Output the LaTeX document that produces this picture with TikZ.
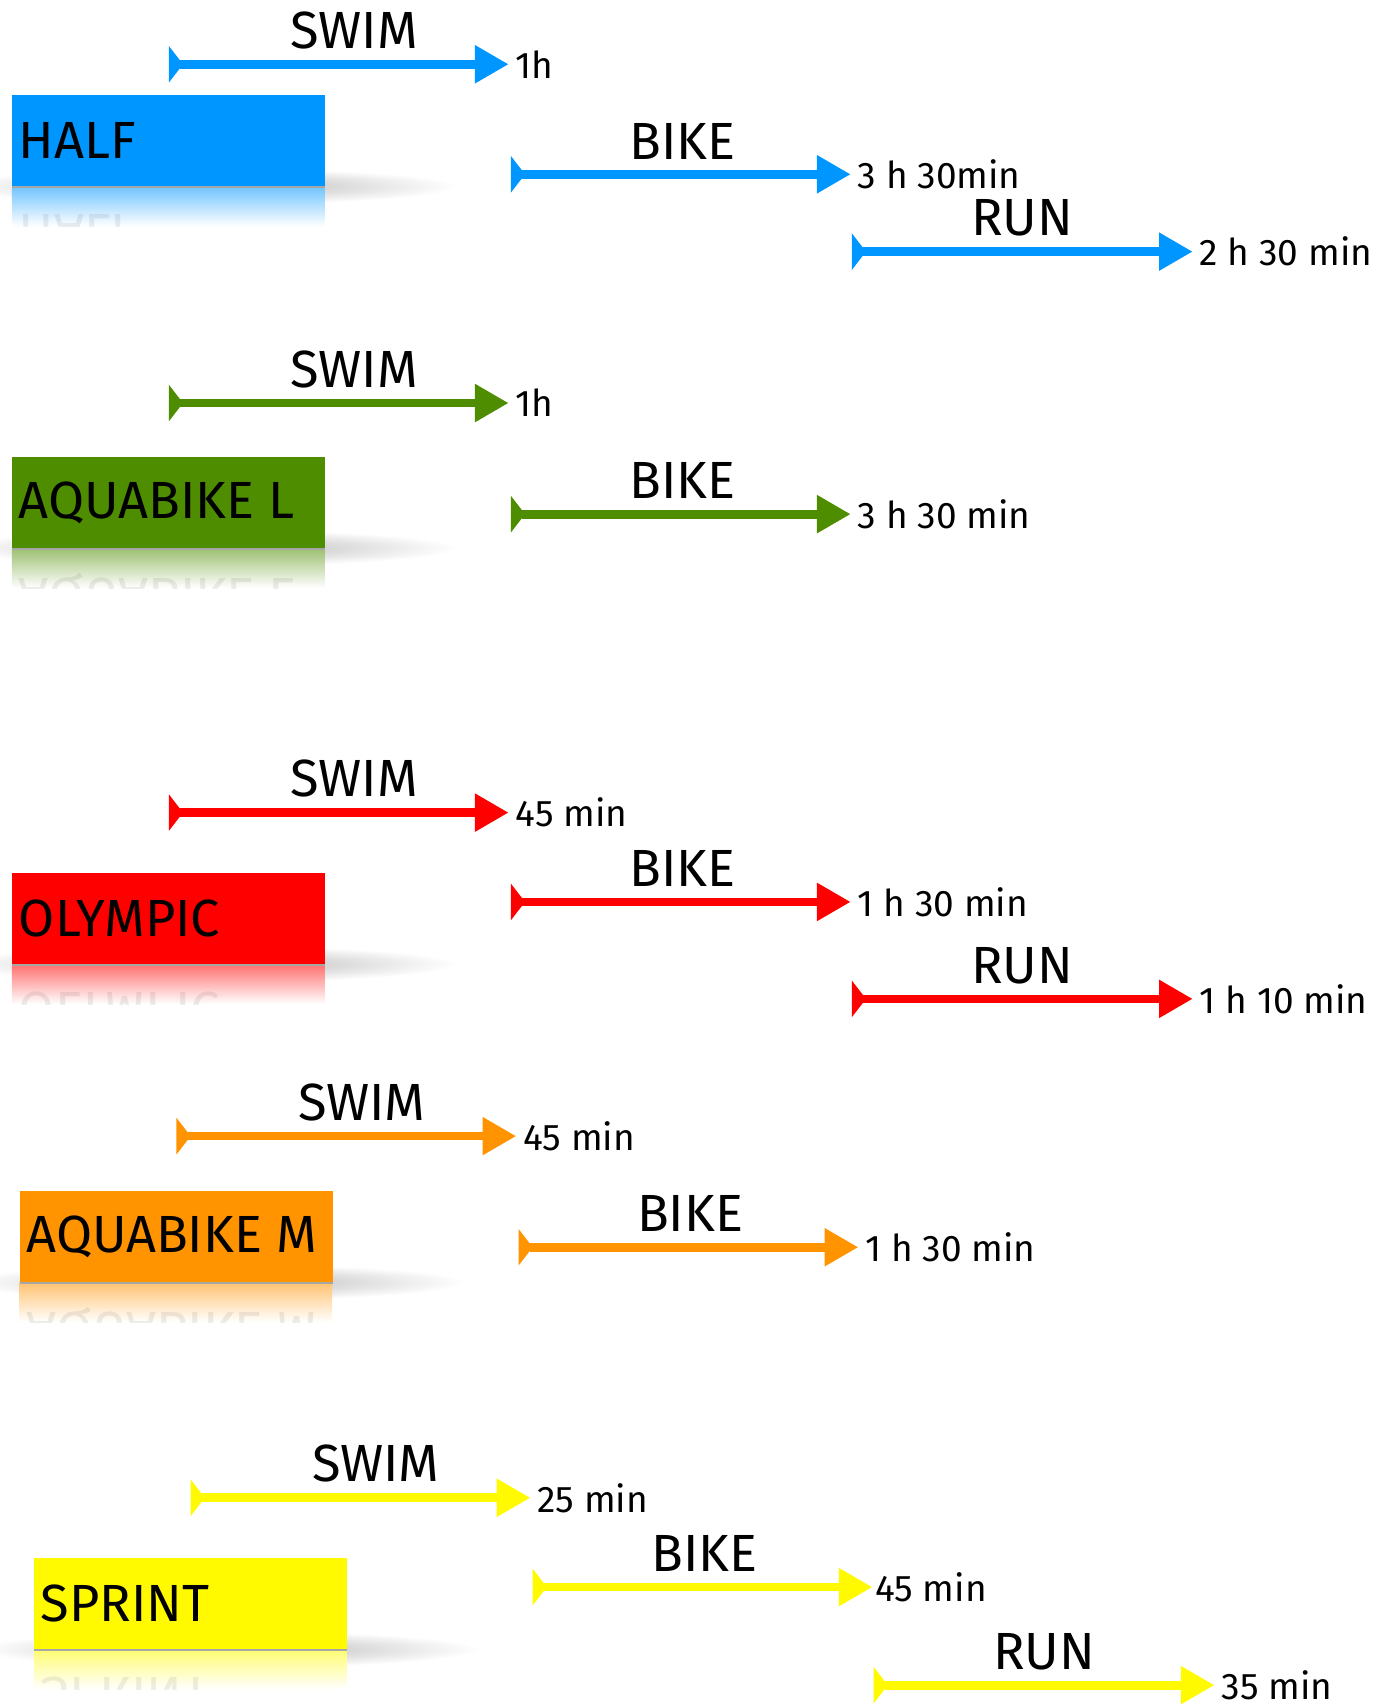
\documentclass[tikz,border=0pt]{standalone}
\usepackage{fontspec}
\setmainfont{Fira Sans}
\usepackage{tikz}
\usetikzlibrary{positioning,calc,arrows.meta}

\definecolor{halfblue}{HTML}{0096FF}
\definecolor{aquagreen}{HTML}{4E8C00}
\definecolor{olyred}{HTML}{FF0000}
\definecolor{aquaorange}{HTML}{FF9300}
\definecolor{sprintyellow}{HTML}{FFFA00}

\begin{document}
\begin{tikzpicture}[x=0.5pt, y=-0.5pt,
    racebox/.style={rectangle, minimum width=143.5pt, minimum height=42pt, inner sep=0pt, anchor=north west},
    racename/.style={anchor=west, inner xsep=3pt, text=black, font=\fontsize{24}{28}\selectfont},
    leg/.style={line width=4pt, arrows={Triangle[reversed,length=6.5pt,width=16.5pt]-Triangle[length=15.5pt,width=16.5pt]}},
    legname/.style={above, inner ysep=5pt, text=black, font=\fontsize{24}{28}\selectfont},
    legtime/.style={inner xsep=3pt, text=black, font=\fontsize{17}{20}\selectfont},
    blob/.style={inner color=black!30, outer color=white},
    mirror/.style={racename, yscale=-1, opacity=.07}
]
    \useasboundingbox (0,0) rectangle (1276,1568);

    % HALF
    \shade[blob] (190,171) ellipse [x radius=230, y radius=17];
    \node[racebox, fill=halfblue] (half) at (11,87) {};
    \shade[top color=halfblue!55!white, bottom color=white] (half.south west) rectangle ++(287,36);
    \begin{scope}
        \clip (half.south west) rectangle ++(287,36);
        \node[mirror] (halfmirror) at ([yshift=-42pt]half.west) {HALF};
    \end{scope}
    \draw[black!35, line width=1pt] (half.south west) -- (half.south east);
    \node[racename] (halftext) at (half.west) {HALF};

    \coordinate (halfswimS) at (155,59);
    \coordinate (halfswimE) at (467,59);
    \coordinate (halfbikeS) at (469,160);
    \coordinate (halfbikeE) at (781,160);
    \coordinate (halfrunS) at (782,231);
    \coordinate (halfrunE) at (1095,231);
    \draw[leg, halfblue] (halfswimS) -- (halfswimE) node[legname, pos=.545] (halfswimL) {SWIM};
    \draw[leg, halfblue] (halfbikeS) -- (halfbikeE) node[legname, pos=.505] (halfbikeL) {BIKE};
    \draw[leg, halfblue] (halfrunS) -- (halfrunE) node[legname, pos=.5] (halfrunL) {RUN};
    \node[legtime, right=0pt of halfswimE] (halfswimT) {1h};
    \node[legtime, right=0pt of halfbikeE] (halfbikeT) {3 h 30min};
    \node[legtime, right=0pt of halfrunE] (halfrunT) {2 h 30 min};

    % AQUABIKE L
    \shade[blob] (190,503) ellipse [x radius=230, y radius=17];
    \node[racebox, fill=aquagreen] (aqual) at (11,419) {};
    \shade[top color=aquagreen!55!white, bottom color=white] (aqual.south west) rectangle ++(287,36);
    \begin{scope}
        \clip (aqual.south west) rectangle ++(287,36);
        \node[mirror] (aqualmirror) at ([yshift=-42pt]aqual.west) {AQUABIKE L};
    \end{scope}
    \draw[black!35, line width=1pt] (aqual.south west) -- (aqual.south east);
    \node[racename] (aqualtext) at (aqual.west) {AQUABIKE L};

    \coordinate (aqualswimS) at (155,370);
    \coordinate (aqualswimE) at (467,370);
    \coordinate (aqualbikeS) at (469,472);
    \coordinate (aqualbikeE) at (781,472);
    \draw[leg, aquagreen] (aqualswimS) -- (aqualswimE) node[legname, pos=.545] (aqualswimL) {SWIM};
    \draw[leg, aquagreen] (aqualbikeS) -- (aqualbikeE) node[legname, pos=.505] (aqualbikeL) {BIKE};
    \node[legtime, right=0pt of aqualswimE] (aqualswimT) {1h};
    \node[legtime, right=0pt of aqualbikeE] (aqualbikeT) {3 h 30 min};

    % OLYMPIC
    \shade[blob] (190,885) ellipse [x radius=230, y radius=17];
    \node[racebox, fill=olyred] (oly) at (11,801) {};
    \shade[top color=olyred!55!white, bottom color=white] (oly.south west) rectangle ++(287,36);
    \begin{scope}
        \clip (oly.south west) rectangle ++(287,36);
        \node[mirror] (olymirror) at ([yshift=-42pt]oly.west) {OLYMPIC};
    \end{scope}
    \draw[black!35, line width=1pt] (oly.south west) -- (oly.south east);
    \node[racename] (olytext) at (oly.west) {OLYMPIC};

    \coordinate (olyswimS) at (155,746);
    \coordinate (olyswimE) at (467,746);
    \coordinate (olybikeS) at (469,828);
    \coordinate (olybikeE) at (781,828);
    \coordinate (olyrunS) at (782,917);
    \coordinate (olyrunE) at (1095,917);
    \draw[leg, olyred] (olyswimS) -- (olyswimE) node[legname, pos=.545] (olyswimL) {SWIM};
    \draw[leg, olyred] (olybikeS) -- (olybikeE) node[legname, pos=.505] (olybikeL) {BIKE};
    \draw[leg, olyred] (olyrunS) -- (olyrunE) node[legname, pos=.5] (olyrunL) {RUN};
    \node[legtime, right=0pt of olyswimE] (olyswimT) {45 min};
    \node[legtime, right=0pt of olybikeE] (olybikeT) {1 h 30 min};
    \node[legtime, right=0pt of olyrunE] (olyrunT) {1 h 10 min};

    % AQUABIKE M
    \shade[blob] (197,1177) ellipse [x radius=230, y radius=17];
    \node[racebox, fill=aquaorange] (aquam) at (18,1093) {};
    \shade[top color=aquaorange!55!white, bottom color=white] (aquam.south west) rectangle ++(287,36);
    \begin{scope}
        \clip (aquam.south west) rectangle ++(287,36);
        \node[mirror] (aquammirror) at ([yshift=-42pt]aquam.west) {AQUABIKE M};
    \end{scope}
    \draw[black!35, line width=1pt] (aquam.south west) -- (aquam.south east);
    \node[racename] (aquamtext) at (aquam.west) {AQUABIKE M};

    \coordinate (aquamswimS) at (162,1043);
    \coordinate (aquamswimE) at (474,1043);
    \coordinate (aquambikeS) at (476,1145);
    \coordinate (aquambikeE) at (788,1145);
    \draw[leg, aquaorange] (aquamswimS) -- (aquamswimE) node[legname, pos=.545] (aquamswimL) {SWIM};
    \draw[leg, aquaorange] (aquambikeS) -- (aquambikeE) node[legname, pos=.505] (aquambikeL) {BIKE};
    \node[legtime, right=0pt of aquamswimE] (aquamswimT) {45 min};
    \node[legtime, right=0pt of aquambikeE] (aquambikeT) {1 h 30 min};

    % SPRINT
    \shade[blob] (210,1514) ellipse [x radius=230, y radius=17];
    \node[racebox, fill=sprintyellow] (sprint) at (31,1430) {};
    \shade[top color=sprintyellow!55!white, bottom color=white] (sprint.south west) rectangle ++(287,36);
    \begin{scope}
        \clip (sprint.south west) rectangle ++(287,36);
        \node[mirror] (sprintmirror) at ([yshift=-42pt]sprint.west) {SPRINT};
    \end{scope}
    \draw[black!35, line width=1pt] (sprint.south west) -- (sprint.south east);
    \node[racename] (sprinttext) at (sprint.west) {SPRINT};

    \coordinate (sprintswimS) at (175,1375);
    \coordinate (sprintswimE) at (487,1375);
    \coordinate (sprintbikeS) at (489,1457);
    \coordinate (sprintbikeE) at (801,1457);
    \coordinate (sprintrunS) at (802,1547);
    \coordinate (sprintrunE) at (1115,1547);
    \draw[leg, sprintyellow] (sprintswimS) -- (sprintswimE) node[legname, pos=.545] (sprintswimL) {SWIM};
    \draw[leg, sprintyellow] (sprintbikeS) -- (sprintbikeE) node[legname, pos=.505] (sprintbikeL) {BIKE};
    \draw[leg, sprintyellow] (sprintrunS) -- (sprintrunE) node[legname, pos=.5] (sprintrunL) {RUN};
    \node[legtime, right=0pt of sprintswimE] (sprintswimT) {25 min};
    \node[legtime, right=-2pt of sprintbikeE] (sprintbikeT) {45 min};
    \node[legtime, right=0pt of sprintrunE] (sprintrunT) {35 min};
\end{tikzpicture}
\end{document}
